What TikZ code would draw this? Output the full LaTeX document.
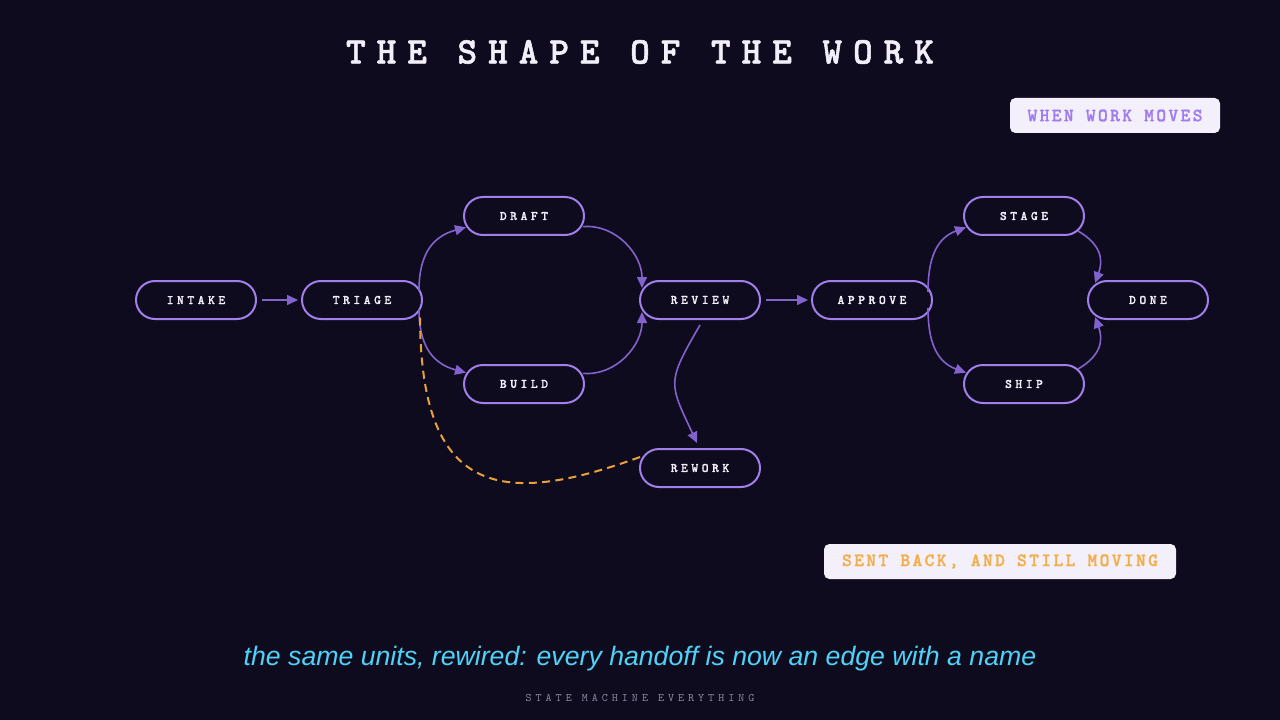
\documentclass[tikz,border=0pt]{standalone}
\usepackage{fontspec}
\usetikzlibrary{arrows.meta,positioning}
\newfontfamily\statefont{lmmonolt10-bold.otf}[LetterSpace=27,FakeBold=1.2]
\newfontfamily\titlefont{lmmonolt10-bold.otf}[LetterSpace=29.5,FakeBold=1.5]
\newfontfamily\tagfont{lmmonolt10-bold.otf}[LetterSpace=12.5,FakeBold=1.2]
\newfontfamily\footfont{lmmono10-regular.otf}[LetterSpace=35]
\newfontfamily\subfont{Liberation Sans Italic}
\definecolor{bg}{HTML}{0F0B1E}
\definecolor{ring}{HTML}{A07FEA}
\definecolor{wire}{HTML}{8262CC}
\definecolor{ink}{HTML}{F2EEFA}
\definecolor{paper}{HTML}{F3F0FB}
\definecolor{lilac}{HTML}{A17BF0}
\definecolor{amber}{HTML}{E9A23B}
\definecolor{amberink}{HTML}{F2AE4A}
\definecolor{sky}{HTML}{4FD2F7}
\definecolor{dim}{HTML}{8C87A3}
\tikzstyle{st} = [rectangle, draw=ring, fill=bg, line width=1.5pt, outer sep=0pt,
    minimum width=90pt, minimum height=28.5pt, rounded corners=14.25pt,
    text=ink, font=\statefont\fontsize{9.75pt}{10pt}\selectfont]
\tikzstyle{tag} = [rectangle, fill=paper, rounded corners=4pt,
    minimum height=26.25pt, font=\tagfont\fontsize{14pt}{15pt}\selectfont]

\begin{document}
\begin{tikzpicture}[x=0.75pt,y=-0.75pt,->,>={Triangle[length=8.25pt,width=7.5pt]},
                    wire,line width=1.2pt,node distance=34.5pt]
  \fill[bg] (0,0) rectangle (1280,720);
  \useasboundingbox (0,0) rectangle (1280,720);

  \node[text=ink,font=\titlefont\fontsize{28pt}{30pt}\selectfont] (title) at (640,52) {THE SHAPE OF THE WORK};
  \node[tag,text=lilac,minimum width=157.5pt] (movetag) at (1115,115.5) {WHEN WORK MOVES};
  \node[tag,text=amberink,minimum width=264pt] (backtag) at (1000,561.5) {SENT BACK, AND STILL MOVING};

  \node[st]  (intake)  at (196,300)                      {INTAKE};
  \node[st]  (triage)  [right=of intake]                 {TRIAGE};
  \node[st]  (draft)   [above right=34.5pt and 31.5pt of triage] {DRAFT};
  \node[st]  (build)   [below right=34.5pt and 31.5pt of triage] {BUILD};
  \node[st]  (review)  [below right=34.5pt and 42pt of draft]    {REVIEW};
  \node[st]  (rework)  [below=97.5pt of review]          {REWORK};
  \node[st]  (approve) [right=39pt of review]            {APPROVE};
  \node[st]  (stage)   [above right=34.5pt and 24pt of approve]  {STAGE};
  \node[st]  (ship)    [below right=34.5pt and 24pt of approve]  {SHIP};
  \node[st]  (done)    [below right=34.5pt and 3pt of stage]     {DONE};

  \path (intake) edge[shorten <=4.5pt,shorten >=3pt] (triage)
  (review) edge[shorten <=4.5pt,shorten >=3pt] (approve)
  ([xshift=-2.25pt,yshift=7pt]triage.east) edge[out=90,in=195,looseness=1.15] ([xshift=1.5pt,yshift=-8.5pt]draft.west)
  ([xshift=-2.25pt,yshift=-7pt]triage.east) edge[out=-90,in=165,looseness=1.15] ([xshift=1.5pt,yshift=8.5pt]build.west)
  ([xshift=-0.75pt,yshift=-8pt]draft.east) edge[out=5,in=90] ([xshift=1.5pt,yshift=9pt]review.west)
  ([xshift=-0.75pt,yshift=8pt]build.east) edge[out=-5,in=-90] ([xshift=1.5pt,yshift=-9pt]review.west)
  ([yshift=-4.5pt]review.south) edge[out=240,in=115,looseness=1.45] ([xshift=-2.25pt,yshift=4.5pt]rework.north)
  ([xshift=-3pt,yshift=6pt]approve.east) edge[out=90,in=200,looseness=1.1] ([xshift=1.5pt,yshift=-8.5pt]stage.west)
  ([xshift=-3pt,yshift=-6pt]approve.east) edge[out=-90,in=160,looseness=1.1] ([xshift=1.5pt,yshift=8.5pt]ship.west)
  ([xshift=-4.5pt,yshift=-11.25pt]stage.east) edge[out=-30,in=70,looseness=1.2] ([xshift=5.25pt,yshift=12.75pt]done.west)
  ([xshift=-4.5pt,yshift=11.25pt]ship.east) edge[out=30,in=-70,looseness=1.2] ([xshift=5.25pt,yshift=-12.75pt]done.west);

  % sent back
  \draw[-,amber,line width=1.5pt,dash pattern=on 6pt off 4pt]
    ([yshift=8.25pt]rework.west) to[out=200,in=-90,out distance=112.5pt,in distance=135pt] ([xshift=-1.5pt,yshift=-11.25pt]triage.east);

  \node[text=sky,font=\subfont\fontsize{20pt}{22pt}\selectfont] (caption) at (640,659) {the same units, rewired: every handoff is now an edge with a name};
  \node[text=dim,font=\footfont\fontsize{8.6pt}{9pt}\selectfont] (footer) at (640,697.5) {STATE MACHINE EVERYTHING};
\end{tikzpicture}
\end{document}
